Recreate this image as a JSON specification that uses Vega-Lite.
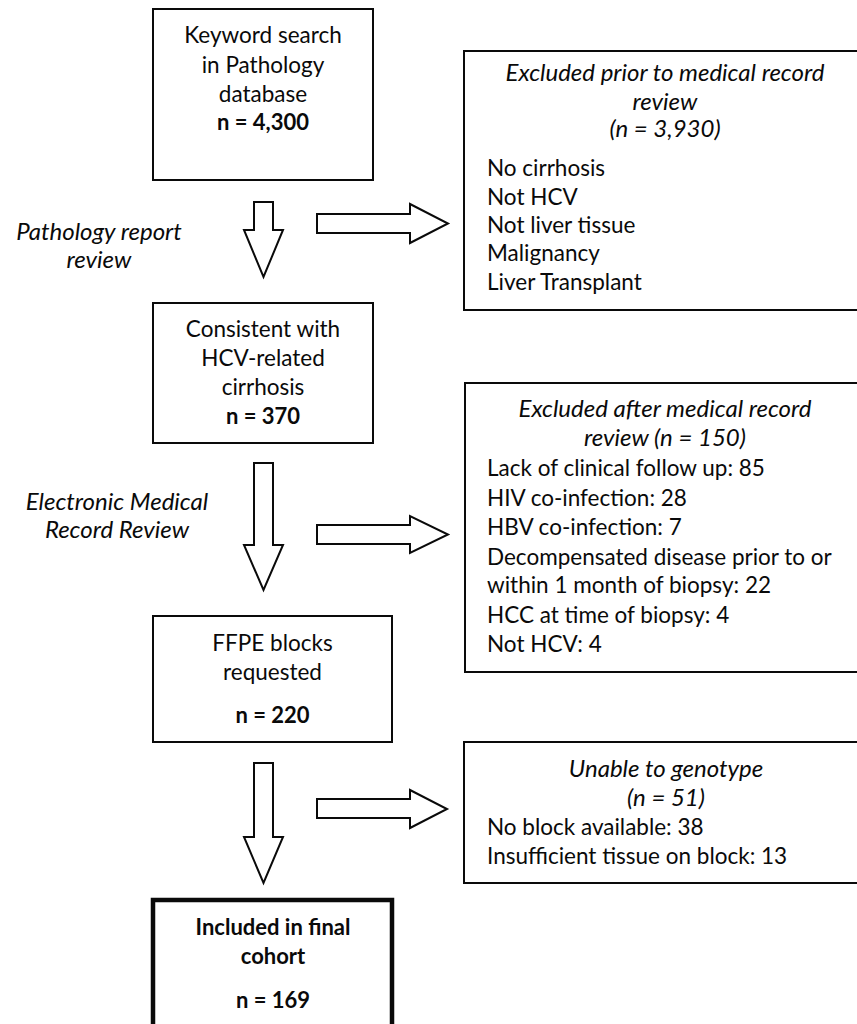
{
  "$schema": "https://vega.github.io/schema/vega-lite/v6.json",
  "width": 857,
  "height": 1024,
  "autosize": {"type": "fit", "contains": "padding"},
  "padding": 0,
  "background": "white",
  "config": {"view": {"stroke": null}, "text": {"font": "Lato", "fontSize": 22.5, "color": "#0a0a0a"}},
  "datasets": {
    "boxes": [
      {"id": "b1", "x": 153, "x2": 373, "y": 9, "y2": 180, "kind": "step"},
      {"id": "b2", "x": 153, "x2": 373, "y": 303, "y2": 443, "kind": "step"},
      {"id": "b3", "x": 153, "x2": 392, "y": 616, "y2": 742, "kind": "step"},
      {"id": "b4", "x": 153, "x2": 392, "y": 900, "y2": 1032, "kind": "final"},
      {"id": "r1", "x": 464, "x2": 862, "y": 51, "y2": 310, "kind": "excl"},
      {"id": "r2", "x": 465, "x2": 862, "y": 383, "y2": 672, "kind": "excl"},
      {"id": "r3", "x": 464, "x2": 862, "y": 742, "y2": 883, "kind": "excl"}
    ],
    "arrows": [
      {"a": "d1", "i": 0, "x": 254, "y": 202}, {"a": "d1", "i": 1, "x": 273, "y": 202}, {"a": "d1", "i": 2, "x": 273, "y": 230}, {"a": "d1", "i": 3, "x": 283, "y": 230}, {"a": "d1", "i": 4, "x": 263.5, "y": 277}, {"a": "d1", "i": 5, "x": 244, "y": 230}, {"a": "d1", "i": 6, "x": 254, "y": 230}, {"a": "d1", "i": 7, "x": 254, "y": 202},
      {"a": "d2", "i": 0, "x": 254, "y": 463}, {"a": "d2", "i": 1, "x": 273, "y": 463}, {"a": "d2", "i": 2, "x": 273, "y": 545}, {"a": "d2", "i": 3, "x": 283, "y": 545}, {"a": "d2", "i": 4, "x": 263.5, "y": 590}, {"a": "d2", "i": 5, "x": 244, "y": 545}, {"a": "d2", "i": 6, "x": 254, "y": 545}, {"a": "d2", "i": 7, "x": 254, "y": 463},
      {"a": "d3", "i": 0, "x": 254, "y": 763}, {"a": "d3", "i": 1, "x": 273, "y": 763}, {"a": "d3", "i": 2, "x": 273, "y": 837}, {"a": "d3", "i": 3, "x": 283, "y": 837}, {"a": "d3", "i": 4, "x": 263.5, "y": 883}, {"a": "d3", "i": 5, "x": 244, "y": 837}, {"a": "d3", "i": 6, "x": 254, "y": 837}, {"a": "d3", "i": 7, "x": 254, "y": 763},
      {"a": "h1", "i": 0, "x": 317, "y": 214}, {"a": "h1", "i": 1, "x": 410, "y": 214}, {"a": "h1", "i": 2, "x": 410, "y": 204}, {"a": "h1", "i": 3, "x": 448, "y": 223.5}, {"a": "h1", "i": 4, "x": 410, "y": 243}, {"a": "h1", "i": 5, "x": 410, "y": 233}, {"a": "h1", "i": 6, "x": 317, "y": 233}, {"a": "h1", "i": 7, "x": 317, "y": 214},
      {"a": "h2", "i": 0, "x": 317, "y": 525}, {"a": "h2", "i": 1, "x": 410, "y": 525}, {"a": "h2", "i": 2, "x": 410, "y": 516}, {"a": "h2", "i": 3, "x": 448, "y": 534.5}, {"a": "h2", "i": 4, "x": 410, "y": 553}, {"a": "h2", "i": 5, "x": 410, "y": 544}, {"a": "h2", "i": 6, "x": 317, "y": 544}, {"a": "h2", "i": 7, "x": 317, "y": 525},
      {"a": "h3", "i": 0, "x": 317, "y": 799}, {"a": "h3", "i": 1, "x": 410, "y": 799}, {"a": "h3", "i": 2, "x": 410, "y": 790}, {"a": "h3", "i": 3, "x": 447, "y": 809}, {"a": "h3", "i": 4, "x": 410, "y": 828}, {"a": "h3", "i": 5, "x": 410, "y": 818}, {"a": "h3", "i": 6, "x": 317, "y": 818}, {"a": "h3", "i": 7, "x": 317, "y": 799}
    ],
    "texts": [
      {"k": "c", "x": 263, "y": 43, "t": "Keyword search"},
      {"k": "c", "x": 263, "y": 73, "t": "in Pathology"},
      {"k": "c", "x": 263, "y": 102, "t": "database"},
      {"k": "b", "x": 263, "y": 130, "t": "n = 4,300"},
      {"k": "c", "x": 263, "y": 337, "t": "Consistent with"},
      {"k": "c", "x": 263, "y": 366, "t": "HCV-related"},
      {"k": "c", "x": 263, "y": 395, "t": "cirrhosis"},
      {"k": "b", "x": 263, "y": 424, "t": "n = 370"},
      {"k": "c", "x": 272.5, "y": 651, "t": "FFPE blocks"},
      {"k": "c", "x": 272.5, "y": 680, "t": "requested"},
      {"k": "b", "x": 272.5, "y": 723, "t": "n = 220"},
      {"k": "b", "x": 273, "y": 935, "t": "Included in final"},
      {"k": "b", "x": 273, "y": 964, "t": "cohort"},
      {"k": "b", "x": 273, "y": 1008, "t": "n = 169"},
      {"k": "i", "x": 99, "y": 240, "t": "Pathology report"},
      {"k": "i", "x": 99, "y": 268, "t": "review"},
      {"k": "i", "x": 117, "y": 510, "t": "Electronic Medical"},
      {"k": "i", "x": 117, "y": 538, "t": "Record Review"},
      {"k": "i", "x": 665, "y": 81, "t": "Excluded prior to medical record"},
      {"k": "i", "x": 665, "y": 110, "t": "review"},
      {"k": "i", "x": 665, "y": 137, "t": "(n = 3,930)"},
      {"k": "l", "x": 487, "y": 176, "t": "No cirrhosis"},
      {"k": "l", "x": 487, "y": 205, "t": "Not HCV"},
      {"k": "l", "x": 487, "y": 233, "t": "Not liver tissue"},
      {"k": "l", "x": 487, "y": 261, "t": "Malignancy"},
      {"k": "l", "x": 487, "y": 290, "t": "Liver Transplant"},
      {"k": "i", "x": 665, "y": 417, "t": "Excluded after medical record"},
      {"k": "i", "x": 665, "y": 446, "t": "review (n = 150)"},
      {"k": "l", "x": 487, "y": 476, "t": "Lack of clinical follow up: 85"},
      {"k": "l", "x": 487, "y": 506, "t": "HIV co-infection: 28"},
      {"k": "l", "x": 487, "y": 535, "t": "HBV co-infection: 7"},
      {"k": "l", "x": 487, "y": 565, "t": "Decompensated disease prior to or"},
      {"k": "l", "x": 487, "y": 593, "t": "within 1 month of biopsy: 22"},
      {"k": "l", "x": 487, "y": 623, "t": "HCC at time of biopsy: 4"},
      {"k": "l", "x": 487, "y": 652, "t": "Not HCV: 4"},
      {"k": "i", "x": 666, "y": 777, "t": "Unable to genotype"},
      {"k": "i", "x": 666, "y": 806, "t": "(n = 51)"},
      {"k": "l", "x": 487, "y": 835, "t": "No block available: 38"},
      {"k": "l", "x": 487, "y": 864, "t": "Insufficient tissue on block: 13"}
    ]
  },
  "layer": [
    {
      "data": {"name": "boxes"},
      "mark": {"type": "rect", "fill": "white", "stroke": "#0a0a0a", "clip": true},
      "encoding": {
        "x": {"field": "x", "type": "quantitative", "scale": {"domain": [0, 857], "nice": false, "zero": false}, "axis": null},
        "x2": {"field": "x2"},
        "y": {"field": "y", "type": "quantitative", "scale": {"domain": [0, 1024], "nice": false, "zero": false, "reverse": true}, "axis": null},
        "y2": {"field": "y2"},
        "strokeWidth": {"condition": {"test": "datum.kind === 'final'", "value": 4.5}, "value": 2}
      }
    },
    {
      "data": {"name": "arrows"},
      "mark": {"type": "line", "color": "#0a0a0a", "strokeWidth": 2, "strokeJoin": "miter", "strokeCap": "square"},
      "encoding": {
        "x": {"field": "x", "type": "quantitative", "axis": null},
        "y": {"field": "y", "type": "quantitative", "axis": null},
        "detail": {"field": "a"},
        "order": {"field": "i", "type": "quantitative"}
      }
    },
    {
      "data": {"name": "texts"},
      "transform": [{"filter": "datum.k === 'c'"}],
      "mark": {"type": "text", "align": "center", "baseline": "alphabetic"},
      "encoding": {
        "x": {"field": "x", "type": "quantitative", "axis": null},
        "y": {"field": "y", "type": "quantitative", "axis": null},
        "text": {"field": "t"}
      }
    },
    {
      "data": {"name": "texts"},
      "transform": [{"filter": "datum.k === 'b'"}],
      "mark": {"type": "text", "align": "center", "baseline": "alphabetic", "fontWeight": "bold", "fontSize": 22},
      "encoding": {
        "x": {"field": "x", "type": "quantitative", "axis": null},
        "y": {"field": "y", "type": "quantitative", "axis": null},
        "text": {"field": "t"}
      }
    },
    {
      "data": {"name": "texts"},
      "transform": [{"filter": "datum.k === 'i'"}],
      "mark": {"type": "text", "align": "center", "baseline": "alphabetic", "fontStyle": "italic", "fontSize": 24},
      "encoding": {
        "x": {"field": "x", "type": "quantitative", "axis": null},
        "y": {"field": "y", "type": "quantitative", "axis": null},
        "text": {"field": "t"}
      }
    },
    {
      "data": {"name": "texts"},
      "transform": [{"filter": "datum.k === 'l'"}],
      "mark": {"type": "text", "align": "left", "baseline": "alphabetic"},
      "encoding": {
        "x": {"field": "x", "type": "quantitative", "axis": null},
        "y": {"field": "y", "type": "quantitative", "axis": null},
        "text": {"field": "t"}
      }
    }
  ]
}
